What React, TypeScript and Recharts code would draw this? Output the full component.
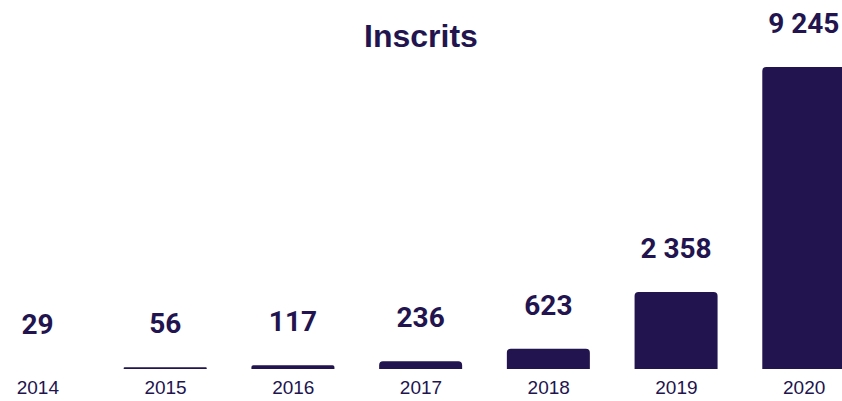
import { Bar, BarChart, LabelList, Rectangle, XAxis, YAxis } from "recharts";

const years = ["2014", "2015", "2016", "2017", "2018", "2019", "2020"];
const inscrits = [29, 56, 117, 236, 623, 2358, 9245];

const data = years.map((year, i) => ({ year, inscrits: inscrits[i] }));

const NAVY = "#22144e";

const formatFr = (v: number) => String(v).replace(/\B(?=(\d{3})+(?!\d))/g, " ");

// bars thinner than a pixel are not drawn in the original
const BarShape = (props: any) => {
  if (!props.height || props.height < 1) return <g />;
  return <Rectangle {...props} />;
};

const App = () => {
  return (
    <div
      style={{
        position: "absolute",
        top: 0,
        left: 0,
        width: 842,
        height: 401,
        overflow: "hidden",
        background: "#ffffff",
      }}
    >
      <div
        style={{
          position: "absolute",
          top: 20,
          left: 0,
          width: 842,
          textAlign: "center",
          fontFamily: "'Liberation Sans', Arial, sans-serif",
          fontWeight: 700,
          fontSize: 32,
          lineHeight: "32px",
          color: NAVY,
        }}
      >
        Inscrits
      </div>
      <div style={{ position: "absolute", top: 0, left: -26 }}>
        <BarChart
          width={894}
          height={401}
          data={data}
          margin={{ top: 67, right: 0, bottom: 0, left: 0 }}
        >
          <XAxis
            dataKey="year"
            axisLine={false}
            tickLine={false}
            height={32}
            tickMargin={6}
            tick={{
              fill: NAVY,
              fontSize: 19,
              fontFamily: "'Liberation Sans', Arial, sans-serif",
            }}
          />
          <YAxis hide domain={[0, 9245]} />
          <Bar
            dataKey="inscrits"
            fill={NAVY}
            barSize={83}
            radius={[4, 4, 0, 0]}
            shape={BarShape}
            isAnimationActive={false}
          >
            <LabelList
              dataKey="inscrits"
              position="top"
              offset={34}
              formatter={(v: any) => formatFr(Number(v))}
              style={{
                fill: NAVY,
                fontSize: 28,
                fontWeight: 700,
                fontFamily: "Roboto, sans-serif",
              }}
            />
          </Bar>
        </BarChart>
      </div>
    </div>
  );
};

export default App;
